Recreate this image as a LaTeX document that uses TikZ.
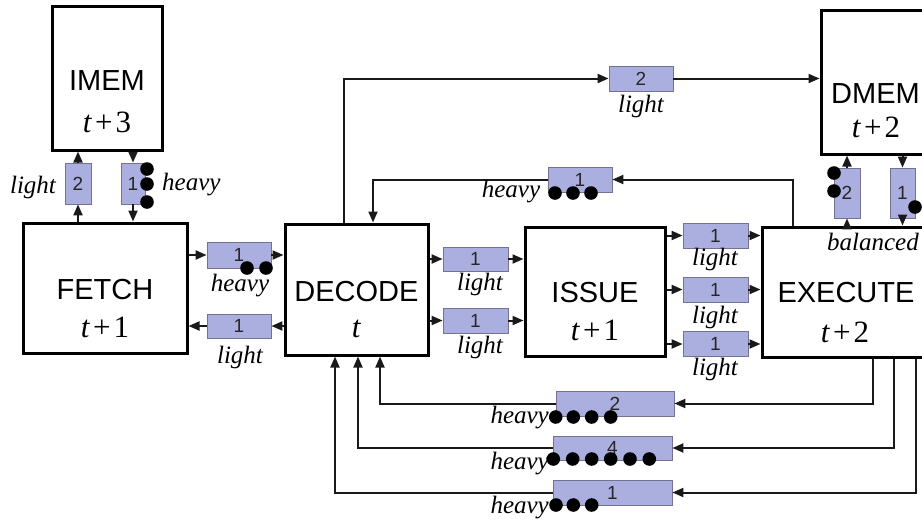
\documentclass[tikz,border=0pt]{standalone}
\usepackage{fontspec}
\setmainfont{Liberation Serif}
\setsansfont{Liberation Sans}
\usetikzlibrary{arrows.meta}
\definecolor{regfill}{RGB}{170,175,224}
\definecolor{regdraw}{RGB}{115,115,145}
\newcommand{\tplus}[1]{\textit{t}\hspace{0.1em}+\hspace{0.1em}#1}
\begin{document}
\begin{tikzpicture}[x=1pt,y=-1pt,
 stage/.style={draw=black, line width=3pt, fill=white, inner sep=0pt},
 stname/.style={font=\sffamily\fontsize{29}{29}\selectfont, inner sep=0pt, anchor=base},
 sttime/.style={font=\fontsize{31}{31}\selectfont, inner sep=0pt, anchor=base},
 reg/.style={draw=regdraw, line width=0.8pt, fill=regfill, inner sep=0pt, text=black!85, font=\sffamily\fontsize{19}{19}\selectfont},
 lab/.style={font=\itshape\fontsize{25}{25}\selectfont, inner sep=0pt, anchor=base},
 conn/.style={line width=2pt, draw=black!90},
 arr/.style={conn, -{Triangle[length=11pt,width=9pt]}},
 tok/.style={fill=black}
]
\useasboundingbox (0,0) rectangle (922,523);
% stages
\node[stage, minimum width=110pt, minimum height=144pt] (imem) at (107,78) {};
\node[stage, minimum width=164pt, minimum height=130pt] (fetch) at (105,288) {};
\node[stage, minimum width=143pt, minimum height=131pt] (decode) at (356.5,289.5) {};
\node[stage, minimum width=140pt, minimum height=129pt] (issue) at (595,291.5) {};
\node[stage, minimum width=162pt, minimum height=130pt] (execute) at (843,292) {};
\node[stage, minimum width=109pt, minimum height=144pt] (dmem) at (875.5,82) {};
\node[stname] (imemname) at (107,90) {IMEM};
\node[sttime] (imemtime) at (107,132) {\tplus{3}};
\node[stname] (fetchname) at (105,299) {FETCH};
\node[sttime] (fetchtime) at (105,337) {\tplus{1}};
\node[stname] (decodename) at (356.5,301) {DECODE};
\node[sttime] (decodetime) at (356.5,337) {\textit{t}};
\node[stname] (issuename) at (595,302) {ISSUE};
\node[sttime] (issuetime) at (595,340) {\tplus{1}};
\node[stname] (executename) at (846,302) {EXECUTE};
\node[sttime] (executetime) at (845,342) {\tplus{2}};
\node[stname] (dmemname) at (875.5,103) {DMEM};
\node[sttime] (dmemtime) at (876,137) {\tplus{2}};
% registers
\node[reg, minimum width=26pt, minimum height=41pt] (rif) at (78,183.5) {2};
\node[reg, minimum width=24pt, minimum height=41pt] (rfi) at (133,183.5) {1};
\node[reg, minimum width=64pt, minimum height=26pt] (rfd) at (239,255) {1};
\node[reg, minimum width=64pt, minimum height=24pt] (rdf) at (239,326) {1};
\node[reg, minimum width=65pt, minimum height=24pt] (rdi1) at (475.5,259) {1};
\node[reg, minimum width=65pt, minimum height=25pt] (rdi2) at (475.5,320.5) {1};
\node[reg, minimum width=65pt, minimum height=25pt] (rie1) at (715.5,235.5) {1};
\node[reg, minimum width=65pt, minimum height=25pt] (rie2) at (715.5,289.5) {1};
\node[reg, minimum width=65pt, minimum height=25pt] (rie3) at (715.5,344) {1};
\node[reg, minimum width=64pt, minimum height=25pt] (rdm) at (641,78.5) {2};
\node[reg, minimum width=64pt, minimum height=25pt] (red) at (580,179.5) {1};
\node[reg, minimum width=26pt, minimum height=50pt] (rxd) at (847,193) {2};
\node[reg, minimum width=25pt, minimum height=50pt] (rdx) at (902.5,193) {1};
\node[reg, minimum width=118pt, minimum height=25pt] (rf1) at (615,403.5) {2};
\node[reg, minimum width=119pt, minimum height=24pt] (rf2) at (612.5,448) {4};
\node[reg, minimum width=119pt, minimum height=25pt] (rf3) at (612.5,492.5) {1};
% helper coordinates
\coordinate (ctop) at (344,78.5);
\coordinate (cx1) at (793,179.5);
\coordinate (cd1) at (373,179.5);
\coordinate (cx2) at (873,0);
\coordinate (cd2) at (380,0);
\coordinate (cx3) at (894,0);
\coordinate (cd3) at (358,0);
\coordinate (cx4) at (916,0);
\coordinate (cd4) at (335,0);
% connectors
\draw[arr] (fetch.north -| rif) -- (rif.south);
\draw[arr] (rif.north) -- (imem.south -| rif);
\draw[arr] (imem.south -| rfi) -- (rfi.north);
\draw[arr] (rfi.south) -- (fetch.north -| rfi);
\draw[arr] (fetch.east |- rfd) -- (rfd.west);
\draw[arr] (rfd.east) -- (decode.west |- rfd);
\draw[arr] (decode.west |- rdf) -- (rdf.east);
\draw[arr] (rdf.west) -- (fetch.east |- rdf);
\draw[arr] (decode.east |- rdi1) -- (rdi1.west);
\draw[arr] (rdi1.east) -- (issue.west |- rdi1);
\draw[arr] (decode.east |- rdi2) -- (rdi2.west);
\draw[arr] (rdi2.east) -- (issue.west |- rdi2);
\draw[arr] (issue.east |- rie1) -- (rie1.west);
\draw[arr] (rie1.east) -- (execute.west |- rie1);
\draw[arr] (issue.east |- rie2) -- (rie2.west);
\draw[arr] (rie2.east) -- (execute.west |- rie2);
\draw[arr] (issue.east |- rie3) -- (rie3.west);
\draw[arr] (rie3.east) -- (execute.west |- rie3);
\draw[arr] (decode.north -| ctop) |- (rdm.west);
\draw[arr] (rdm.east) -- (dmem.west |- rdm);
\draw[arr] (execute.north -| cx1) |- (red.east);
\draw[arr] (red.west) -| (decode.north -| cd1);
\draw[arr] (execute.north -| rxd) -- (rxd.south);
\draw[arr] (rxd.north) -- (dmem.south -| rxd);
\draw[arr] (dmem.south -| rdx) -- (rdx.north);
\draw[arr] (rdx.south) -- (execute.north -| rdx);
\draw[arr] (execute.south -| cx2) |- (rf1.east);
\draw[arr] (rf1.west) -| (decode.south -| cd2);
\draw[arr] (execute.south -| cx3) |- (rf2.east);
\draw[arr] (rf2.west) -| (decode.south -| cd3);
\draw[arr] (execute.south -| cx4) |- (rf3.east);
\draw[arr] (rf3.west) -| (decode.south -| cd4);
% tokens
\foreach \px/\py in {147/169, 147/184, 147/202,
  247/268, 266/268,
  555/193, 573/193, 591/193,
  834/173, 834/191, 915/207,
  555.7/417, 573.3/417, 591.7/417, 610.7/417,
  553.3/459, 572.7/459, 591.7/459, 610.7/459, 630/459, 649.3/459,
  556/505, 573.3/505, 591.7/505}
  \fill[tok] (\px,\py) circle[radius=6.8pt];
% labels
\node[lab] (l1) at (33,193) {light};
\node[lab, anchor=base west] (l2) at (162,190) {heavy};
\node[lab] (l3) at (240,291) {heavy};
\node[lab] (l4) at (240,363) {light};
\node[lab] (l5) at (480,290) {light};
\node[lab] (l6) at (480,353) {light};
\node[lab] (l7) at (715,265) {light};
\node[lab] (l8) at (715,323) {light};
\node[lab] (l9) at (715,375) {light};
\node[lab] (l10) at (873,250) {balanced};
\node[lab] (l11) at (641,112) {light};
\node[lab] (l12) at (511,197) {heavy};
\node[lab, anchor=base east] (l13) at (549,423) {heavy};
\node[lab, anchor=base east] (l14) at (549,469) {heavy};
\node[lab, anchor=base east] (l15) at (549,513) {heavy};
\end{tikzpicture}
\end{document}
